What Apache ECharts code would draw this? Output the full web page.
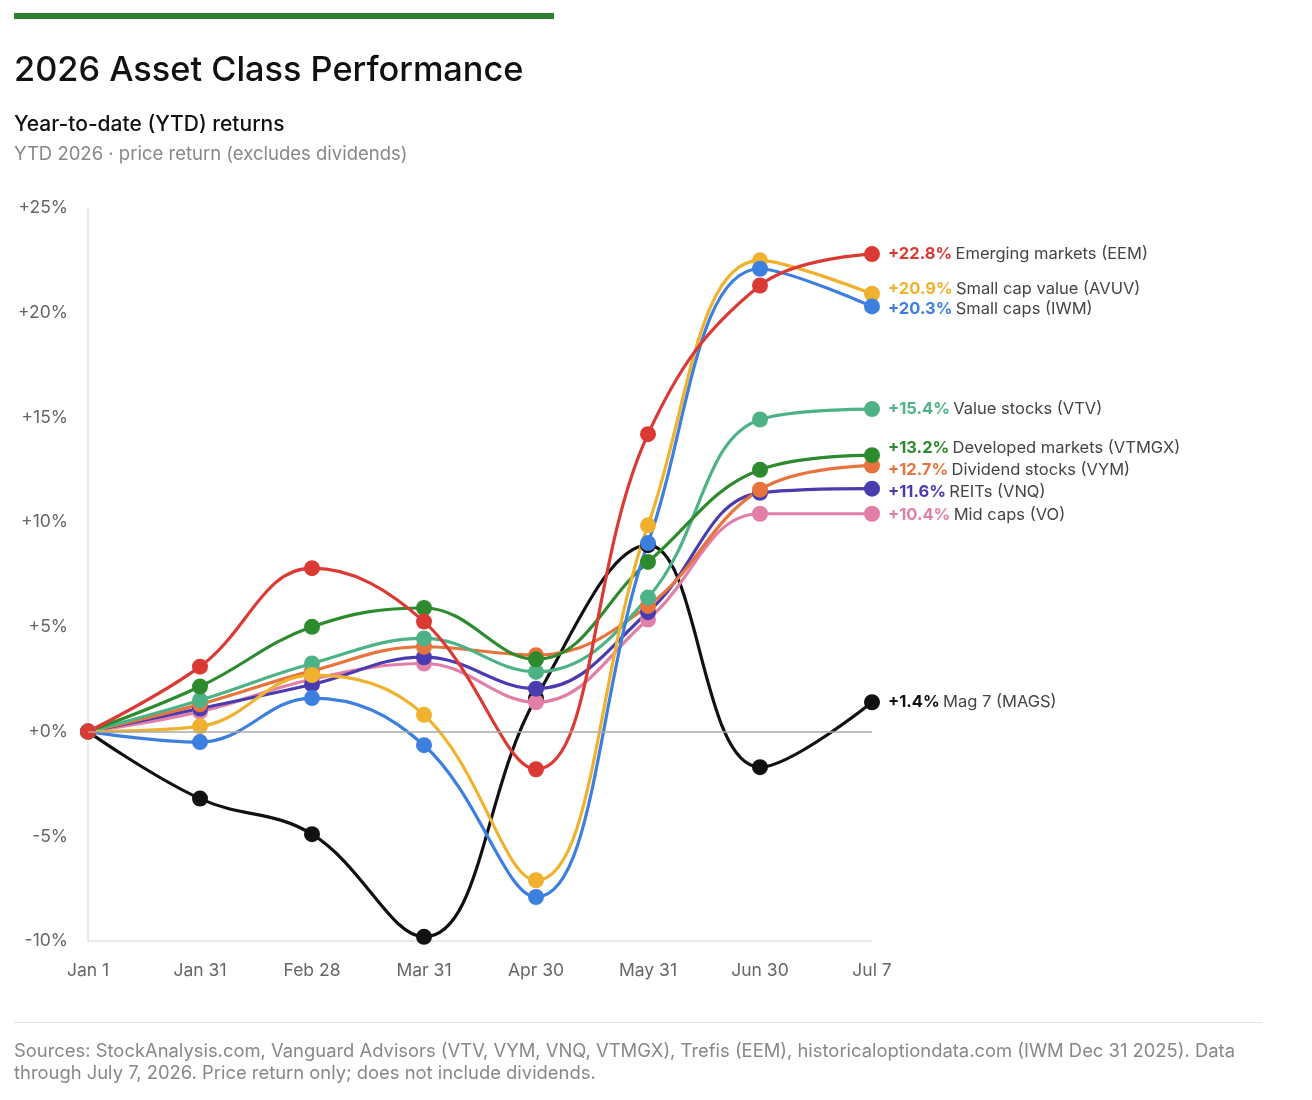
<!DOCTYPE html>
<html>
<head>
<meta charset="utf-8">
<script src="https://cdn.jsdelivr.net/npm/echarts@6/dist/echarts.min.js"></script>
<style>
html,body{margin:0;padding:0;background:#fff;}
#chart{width:1312px;height:1100px;}
</style>
</head>
<body>
<div id="chart"></div>
<script>
// ---- data ----
const categories = ['Jan 1','Jan 31','Feb 28','Mar 31','Apr 30','May 31','Jun 30','Jul 7'];
const yTicks = [-10,-5,0,5,10,15,20,25];

const eem   = [0, 3.1, 7.8, 5.25, -1.8, 14.2, 21.3, 22.8];
const avuv  = [0, 0.25, 2.7, 0.8, -7.1, 9.85, 22.5, 20.9];
const iwm   = [0, -0.5, 1.6, -0.65, -7.9, 9.0, 22.1, 20.3];
const vtv   = [0, 1.5, 3.25, 4.45, 2.85, 6.4, 14.9, 15.4];
const vtmgx = [0, 2.15, 5.0, 5.9, 3.45, 8.1, 12.5, 13.2];
const vym   = [0, 1.3, 2.9, 4.05, 3.65, 6.0, 11.55, 12.7];
const vnq   = [0, 1.1, 2.25, 3.55, 2.05, 5.7, 11.4, 11.6];
const vo    = [0, 0.95, 2.5, 3.25, 1.4, 5.35, 10.4, 10.4];
const mags  = [0, -3.2, -4.9, -9.8, 1.6, 8.9, -1.7, 1.4];

const names = {
  eem: 'Emerging markets (EEM)',
  avuv: 'Small cap value (AVUV)',
  iwm: 'Small caps (IWM)',
  vtv: 'Value stocks (VTV)',
  vtmgx: 'Developed markets (VTMGX)',
  vym: 'Dividend stocks (VYM)',
  vnq: 'REITs (VNQ)',
  vo: 'Mid caps (VO)',
  mags: 'Mag 7 (MAGS)'
};

// ---- styling ----
const colors = {
  eem: '#db3a34', avuv: '#f0b12e', iwm: '#3d7fde', vtv: '#4db387',
  vtmgx: '#2d8a2d', vym: '#e8743d', vnq: '#4a3bb0', vo: '#e27fa9', mags: '#111111'
};
const labelShift = {eem:0, avuv:-5, iwm:3, vtv:0, vtmgx:-7, vym:4, vnq:3, vo:1, mags:0};
const FONT = 'Inter, "Liberation Sans", Arial, sans-serif';

const dataMap = {eem, avuv, iwm, vtv, vtmgx, vym, vnq, vo, mags};
const drawOrder = ['mags','vo','vnq','vym','vtv','vtmgx','avuv','iwm','eem'];

function pct(v){ return (v >= 0 ? '+' : '') + v + '%'; }

const series = drawOrder.map(function(key){
  const d = dataMap[key];
  const last = d[d.length-1];
  const s = {
    name: names[key],
    type: 'line',
    data: d,
    smooth: 0.4,
    symbol: 'circle',
    symbolSize: 16,
    showAllSymbol: true,
    lineStyle: {width: 3.2, color: colors[key]},
    itemStyle: {color: colors[key]},
    emphasis: {disabled: true},
    animation: false,
    endLabel: {
      show: true,
      distance: 16,
      offset: [0, labelShift[key]],
      formatter: function(){ return '{v|' + pct(last) + '} {n|' + names[key] + '}'; },
      rich: {
        v: {color: colors[key], fontWeight: 'bold', fontSize: 16.5, fontFamily: FONT},
        n: {color: '#444', fontSize: 16.5, fontFamily: FONT}
      }
    }
  };
  if (key === 'mags') {
    s.markLine = {
      silent: true, symbol: 'none', animation: false,
      label: {show: false},
      lineStyle: {color: '#a8a8a8', width: 1.6, type: 'solid'},
      data: [{yAxis: 0}]
    };
  }
  return s;
});

const chart = echarts.init(document.getElementById('chart'));
chart.setOption({
  backgroundColor: '#fff',
  animation: false,
  grid: {left: 88, right: 440, top: 208, bottom: 159, containLabel: false},
  xAxis: {
    type: 'category',
    data: categories,
    boundaryGap: false,
    axisLine: {onZero: false, lineStyle: {color: '#e2e2e2', width: 1.5}},
    axisTick: {show: false},
    axisLabel: {color: '#666', fontSize: 17.5, fontFamily: FONT, margin: 21, interval: 0},
    splitLine: {show: false}
  },
  yAxis: {
    type: 'value',
    min: yTicks[0],
    max: yTicks[yTicks.length-1],
    interval: 5,
    axisLine: {show: true, lineStyle: {color: '#e2e2e2', width: 1.5}},
    axisTick: {show: false},
    splitLine: {show: false},
    axisLabel: {color: '#666', fontSize: 17.5, fontFamily: FONT, margin: 20,
      formatter: function(v){ return pct(v); }}
  },
  series: series,
  graphic: [
    {type: 'rect', shape: {x: 14, y: 13, width: 540, height: 6}, style: {fill: '#2e7d32'}},
    {type: 'text', left: 14, top: 54, style: {text: '2026 Asset Class Performance', fill: '#111', font: '500 34.3px ' + FONT}},
    {type: 'text', left: 14, top: 114, style: {text: 'Year-to-date (YTD) returns', fill: '#111', font: '500 21px ' + FONT}},
    {type: 'text', left: 14, top: 145, style: {text: 'YTD 2026 · price return (excludes dividends)', fill: '#888', font: '18.5px ' + FONT}},
    {type: 'rect', shape: {x: 14, y: 1022, width: 1248, height: 1}, style: {fill: '#e4e4e4'}},
    {type: 'text', left: 14, top: 1040, style: {
      text: 'Sources: StockAnalysis.com, Vanguard Advisors (VTV, VYM, VNQ, VTMGX), Trefis (EEM), historicaloptiondata.com (IWM Dec 31 2025). Data\nthrough July 7, 2026. Price return only; does not include dividends.',
      fill: '#888', font: '18.4px ' + FONT, lineHeight: 22}}
  ]
});
</script>
</body>
</html>
